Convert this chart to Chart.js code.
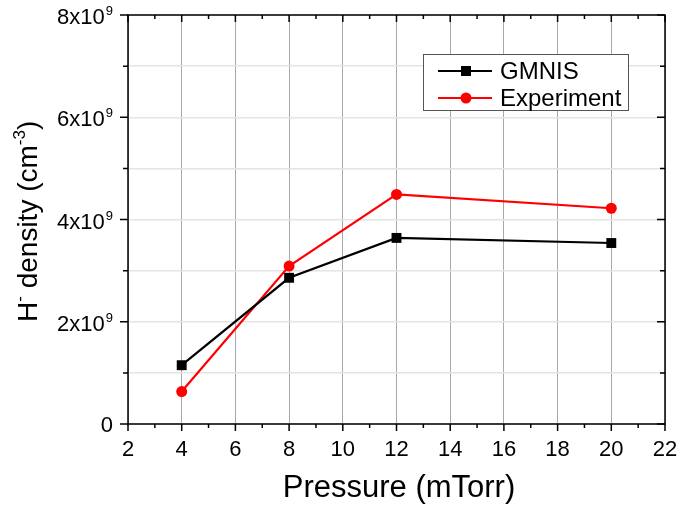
<!DOCTYPE html>
<html>
<head>
<meta charset="utf-8">
<script src="https://cdn.jsdelivr.net/npm/chart.js@4/dist/chart.umd.min.js"></script>
<style>
  body { margin: 0; background: #fff; }
  #wrap { width: 683px; height: 505px; }
</style>
</head>
<body>
<div id="wrap"><canvas id="myChart" width="683" height="505"></canvas></div>
<script>
const FONT = '"Liberation Sans", Arial, sans-serif';

// data
const pressure = [4, 8, 12, 20];
const gmnis = [1.15e9, 2.86e9, 3.64e9, 3.54e9];
const experiment = [0.635e9, 3.09e9, 4.49e9, 4.22e9];
const seriesNames = ['GMNIS', 'Experiment'];

// axes
const xTicks = [2, 4, 6, 8, 10, 12, 14, 16, 18, 20, 22];
const yTicks = [0, 2e9, 4e9, 6e9, 8e9];
const xTitle = 'Pressure (mTorr)';

function toPoints(xs, ys) {
  return xs.map((x, i) => ({ x: x, y: ys[i] }));
}

// text with superscript pieces: [text, isSup]
function drawPieces(ctx, pieces, x, y, size, supSize, rise) {
  let cx = x;
  pieces.forEach(p => {
    ctx.font = (p[1] ? supSize : size) + 'px ' + FONT;
    ctx.fillText(p[0], cx, p[1] ? y - rise : y);
    cx += ctx.measureText(p[0]).width;
  });
}

const decor = {
  id: 'decor',
  afterDraw(chart) {
    const ctx = chart.ctx;
    const a = chart.chartArea;
    const xs = chart.scales.x;
    const ys = chart.scales.y;
    ctx.save();

    // frame
    ctx.strokeStyle = '#000';
    ctx.lineWidth = 1.5;
    ctx.strokeRect(a.left, a.top, a.right - a.left, a.bottom - a.top);

    // tick marks: out on bottom/left, in on top/right
    ctx.lineWidth = 1.5;
    ctx.beginPath();
    for (let v = xs.min; v <= xs.max; v += 1) {
      const px = xs.getPixelForValue(v);
      const len = xTicks.includes(v) ? 7 : 4;
      ctx.moveTo(px, a.bottom); ctx.lineTo(px, a.bottom + len);
      ctx.moveTo(px, a.top); ctx.lineTo(px, a.top + len);
    }
    for (let v = ys.min; v <= ys.max; v += 1e9) {
      const py = ys.getPixelForValue(v);
      const len = yTicks.includes(v) ? 8 : 5;
      ctx.moveTo(a.left - len, py); ctx.lineTo(a.left, py);
      ctx.moveTo(a.right - len, py); ctx.lineTo(a.right, py);
    }
    ctx.stroke();

    ctx.fillStyle = '#000';
    // x labels
    ctx.font = '22px ' + FONT;
    ctx.textAlign = 'center';
    ctx.textBaseline = 'alphabetic';
    xTicks.forEach(v => {
      ctx.fillText(String(v), xs.getPixelForValue(v), a.bottom + 32);
    });

    // y labels like 8x10^9
    ctx.textAlign = 'right';
    yTicks.forEach(v => {
      const py = ys.getPixelForValue(v);
      if (v === 0) {
        ctx.font = '22px ' + FONT;
        ctx.fillText('0', 113, py + 8);
        return;
      }
      ctx.font = '13px ' + FONT;
      ctx.fillText('9', 113, py);
      const w = ctx.measureText('9').width;
      ctx.font = '22px ' + FONT;
      ctx.fillText((v / 1e9) + 'x10', 112 - w, py + 9);
    });

    // x title
    ctx.textAlign = 'center';
    ctx.font = '31px ' + FONT;
    ctx.fillText(xTitle, 399, 497);

    // y title, rotated
    ctx.save();
    ctx.translate(37, 322);
    ctx.rotate(-Math.PI / 2);
    ctx.textAlign = 'left';
    drawPieces(ctx, [['H', false], ['-', true], [' density (cm', false], ['-3', true], [')', false]], 0, 0, 28, 17, 12);
    ctx.restore();

    // legend
    const lx = 423, ly = 54, lw = 205, lh = 56;
    ctx.fillStyle = '#fff';
    ctx.fillRect(lx, ly, lw, lh);
    ctx.strokeStyle = '#555';
    ctx.lineWidth = 1;
    ctx.strokeRect(lx + 0.5, ly + 0.5, lw, lh);
    chart.data.datasets.forEach((ds, i) => {
      const y = 71 + i * 27;
      ctx.strokeStyle = ds.borderColor;
      ctx.lineWidth = 2.2;
      ctx.beginPath();
      ctx.moveTo(438, y); ctx.lineTo(492, y);
      ctx.stroke();
      ctx.fillStyle = ds.backgroundColor;
      if (ds.pointStyle === 'rect') {
        ctx.fillRect(461, y - 5, 10, 10);
      } else {
        ctx.beginPath();
        ctx.arc(466, y, 5.5, 0, Math.PI * 2);
        ctx.fill();
      }
      ctx.fillStyle = '#000';
      ctx.font = '24px ' + FONT;
      ctx.textAlign = 'left';
      ctx.textBaseline = 'middle';
      ctx.fillText(ds.label, 500, y + 1);
    });
    ctx.restore();
  }
};

new Chart('myChart', {
  type: 'line',
  data: {
    datasets: [{
      label: seriesNames[0],
      data: toPoints(pressure, gmnis),
      borderColor: '#000',
      backgroundColor: '#000',
      borderWidth: 2.2,
      pointStyle: 'rect',
      pointRadius: 7,
      pointBorderWidth: 0
    }, {
      label: seriesNames[1],
      data: toPoints(pressure, experiment),
      borderColor: '#ff0000',
      backgroundColor: '#ff0000',
      borderWidth: 2.2,
      pointStyle: 'circle',
      pointRadius: 5.5,
      pointBorderWidth: 0
    }]
  },
  options: {
    responsive: false,
    animation: false,
    devicePixelRatio: 1,
    layout: { padding: { top: 15, right: 18, left: 0, bottom: 0 } },
    plugins: {
      legend: { display: false },
      tooltip: { enabled: false }
    },
    scales: {
      x: {
        type: 'linear',
        min: 2,
        max: 22,
        ticks: { stepSize: 1, display: false },
        border: { display: false },
        grid: {
          drawTicks: false,
          lineWidth: 1,
          color: c => (c.tick && c.tick.value % 2 === 0) ? '#a8a8a8' : 'rgba(0,0,0,0)'
        },
        afterFit: s => { s.height = 81; }
      },
      y: {
        min: 0,
        max: 8e9,
        ticks: { stepSize: 1e9, display: false },
        border: { display: false },
        grid: { drawTicks: false, color: '#e4e4e4', lineWidth: 1.5 },
        afterFit: s => { s.height; s.width = 128; }
      }
    }
  },
  plugins: [decor]
});
</script>
</body>
</html>
